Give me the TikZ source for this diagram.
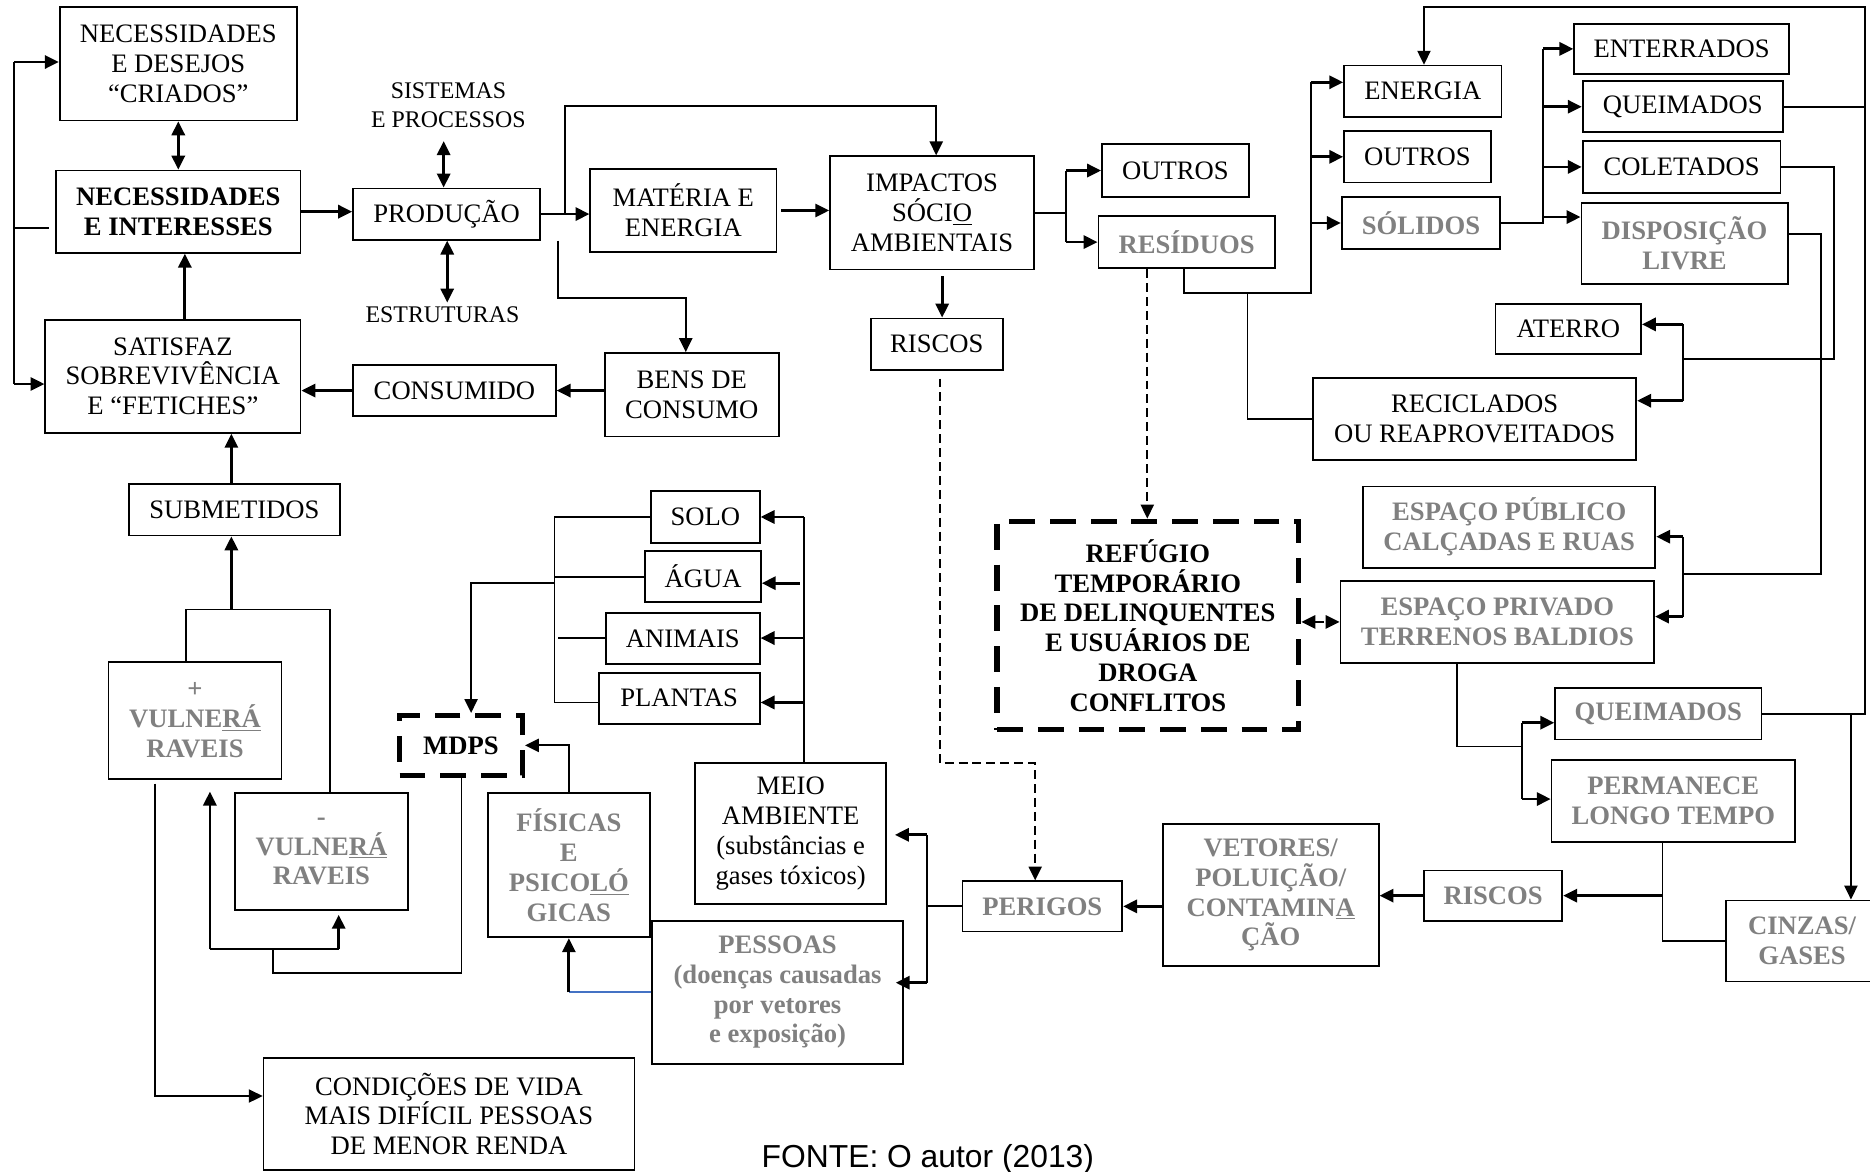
\documentclass[tikz,border=0pt]{standalone}
\usepackage{fontspec}
\setmainfont{Liberation Serif}
\newfontfamily\srcfont{Liberation Sans}
\usetikzlibrary{arrows.meta,calc}
\definecolor{txtgray}{RGB}{128,128,128}
\definecolor{linkblue}{RGB}{68,114,196}

% \mkbox[style]{name}{x1}{y1}{x2}{y2}{text}: box given by its corners
\newcommand\mkbox[7][box]{%
  \pgfmathsetmacro\mbx{(#3+#5)/2}%
  \pgfmathsetmacro\mby{(#4+#6)/2}%
  \pgfmathsetmacro\mbw{(#5-#3)*0.6}%
  \pgfmathsetmacro\mbh{(#6-#4)*0.6}%
  \node[#1,minimum width=\mbw pt,minimum height=\mbh pt] (#2) at (\mbx,\mby) {#7};}

\begin{document}
\begin{tikzpicture}[x=0.6pt,y=-0.6pt,
  >={Triangle[length=7pt,width=6.6pt]},
  box/.style={draw,line width=0.9pt,inner sep=0pt,align=center,font=\fontsize{13.4}{15}\selectfont},
  gbox/.style={box,text=txtgray,font=\fontsize{13.4}{15}\selectfont\bfseries},
  bbox/.style={box,font=\fontsize{13.4}{15}\selectfont\bfseries},
  dbox/.style={bbox,line width=2.6pt,dash pattern=on 13pt off 7.5pt},
  lbl/.style={inner sep=0pt,align=center,font=\fontsize{12}{14.4}\selectfont},
  ln/.style={line width=0.9pt},
  ar/.style={->,line width=1.4pt},
  arl/.style={->,line width=1pt},
  dar/.style={<->,line width=1.4pt},
  dl/.style={line width=0.9pt,dash pattern=on 4.5pt off 2.5pt}]
\useasboundingbox (0,0) rectangle (1568,982);
\fill[white] (0,0) rectangle (1568,982);

% ---------- boxes ----------
\mkbox{NDC}{50}{6}{249}{101}{NECESSIDADES\\E DESEJOS\\“CRIADOS”}
\mkbox[bbox]{NI}{47}{143}{252}{212}{NECESSIDADES\\E INTERESSES}
\mkbox{SAT}{38}{268}{252}{363}{SATISFAZ\\SOBREVIVÊNCIA\\E “FETICHES”}
\mkbox{PROD}{296}{158}{453}{201}{PRODUÇÃO}
\mkbox[lbl]{SIS}{321}{58}{431}{118}{SISTEMAS\\E PROCESSOS}
\mkbox[lbl]{ESTR}{306}{254}{436}{274}{ESTRUTURAS}
\mkbox{CONS}{296}{306}{466}{349}{CONSUMIDO}
\mkbox{BENS}{507}{296}{653}{366}{BENS DE\\CONSUMO}
\mkbox{ME}{495}{142}{651}{211}{MATÉRIA E\\ENERGIA}
\mkbox{IMP}{696}{131}{867}{226}{IMPACTOS\\SÓCI\underline{O}\\AMBIENTAIS}
\mkbox{RIS1}{730}{267}{841}{310}{RISCOS}
\mkbox{OUT1}{924}{121}{1047}{165}{OUTROS}
\mkbox[gbox]{RES}{921}{181}{1069}{225}{RESÍDUOS}
\mkbox{ENE}{1127}{55}{1259}{98}{ENERGIA}
\mkbox{OUT2}{1127}{110}{1250}{153}{OUTROS}
\mkbox[gbox]{SOL}{1125}{165}{1258}{209}{SÓLIDOS}
\mkbox{ENT}{1320}{20}{1500}{62}{ENTERRADOS}
\mkbox{QUE1}{1327}{68}{1495}{111}{QUEIMADOS}
\mkbox{COL}{1327}{118}{1493}{162}{COLETADOS}
\mkbox[gbox]{DISP}{1326}{170}{1499}{238}{DISPOSIÇÃO\\LIVRE}
\mkbox{ATE}{1254}{255}{1376}{297}{ATERRO}
\mkbox{REC}{1101}{317}{1372}{386}{RECICLADOS\\OU REAPROVEITADOS}
\mkbox[gbox]{EPU}{1143}{408}{1388}{476}{ESPAÇO PÚBLICO\\CALÇADAS E RUAS}
\mkbox[gbox]{EPR}{1124}{487}{1387}{556}{ESPAÇO PRIVADO\\TERRENOS BALDIOS}
\mkbox[dbox]{REF}{836}{437}{1089}{612}{REFÚGIO\\TEMPORÁRIO\\DE DELINQUENTES\\E USUÁRIOS DE\\DROGA\\CONFLITOS}
\mkbox[gbox]{QUE2}{1304}{577}{1477}{620}{QUEIMADOS}
\mkbox[gbox]{PERM}{1301}{637}{1505}{706}{PERMANECE\\LONGO TEMPO}
\mkbox[gbox]{RIS2}{1194}{730}{1310}{772}{RISCOS}
\mkbox[gbox]{CINZ}{1447}{755}{1575}{823}{CINZAS/\\GASES}
\mkbox[gbox]{VET}{975}{691}{1156}{810}{VETORES/\\POLUIÇÃO/\\CONTAMIN\underline{A}\\ÇÃO}
\mkbox[gbox]{PER}{807}{739}{941}{781}{PERIGOS}
\mkbox{MEIO}{583}{640}{743}{758}{MEIO\\AMBIENTE\\(substâncias e\\gases tóxicos)}
\mkbox[gbox]{PESS}{547}{772}{757}{892}{PESSOAS\\(doenças causadas\\por vetores\\e exposição)}
\mkbox[gbox]{FIS}{409}{665}{545}{786}{FÍSICAS\\E\\PSICO\underline{LÓ}\\GICAS}
\mkbox[dbox]{MDPS}{335}{600}{438}{650}{MDPS}
\mkbox{SOLO}{546}{412}{637}{455}{SOLO}
\mkbox{AGUA}{541}{462}{638}{505}{ÁGUA}
\mkbox{ANIM}{508}{514}{637}{557}{ANIMAIS}
\mkbox{PLAN}{502}{564}{637}{607}{PLANTAS}
\mkbox{SUB}{108}{406}{285}{449}{SUBMETIDOS}
\mkbox[gbox]{VUL1}{91}{555}{236}{653}{+\\VULNE\underline{RÁ}\\RAVEIS}
\mkbox[gbox]{VUL2}{197}{665}{342}{763}{-\\VULNE\underline{RÁ}\\RAVEIS}
\mkbox{COND}{221}{887}{532}{981}{CONDIÇÕES DE VIDA\\MAIS DIFÍCIL PESSOAS\\DE MENOR RENDA}
\node[anchor=base,inner sep=0pt,font=\srcfont\fontsize{16}{19}\selectfont] (src) at (778,979) {FONTE: O autor (2013)};

% ---------- guide coordinates ----------
\coordinate (lbT) at (12,52);
\coordinate (lbM) at (12,191);
\coordinate (lbB) at (12,322);
\coordinate (g155) at (155,0);
\coordinate (g372) at (372,0);
\coordinate (g375) at (375,0);
\coordinate (g474) at (474,0);
\coordinate (t89) at (785,89);
\coordinate (b250) at (468,250);
\coordinate (g575) at (575,0);
\coordinate (g790) at (790,0);
\coordinate (g894) at (894,0);
\coordinate (r1) at (993,246);
\coordinate (g1099) at (1099,0);
\coordinate (e69) at (1099,69);
\coordinate (g1046) at (1046,0);
\coordinate (g1294) at (1294,0);
\coordinate (d182) at (1294,182);
\coordinate (tr) at (1564,6);
\coordinate (g1194) at (1194,0);
\coordinate (g1552) at (1552,0);
\coordinate (c1) at (1538,143);
\coordinate (c2) at (1411,301);
\coordinate (c3) at (1411,272);
\coordinate (c4) at (1411,336);
\coordinate (d2) at (1527,196);
\coordinate (d3) at (1411,481);
\coordinate (d4) at (1411,450);
\coordinate (d5) at (1411,517);
\coordinate (g962) at (962,0);
\coordinate (k1) at (788,640);
\coordinate (k2) at (868,640);
\coordinate (g1394) at (1394,0);
\coordinate (q1) at (1222,626);
\coordinate (q2) at (1276,606);
\coordinate (q3) at (1276,670);
\coordinate (g777) at (777,0);
\coordinate (w1) at (777,700);
\coordinate (w2) at (777,824);
\coordinate (g674) at (674,0);
\coordinate (a2) at (674,489);
\coordinate (a3) at (674,535);
\coordinate (a4) at (674,589);
\coordinate (g465) at (465,0);
\coordinate (n2) at (465,489);
\coordinate (n3) at (468,535);
\coordinate (n4) at (465,589);
\coordinate (g395) at (395,0);
\coordinate (g477) at (477,0);
\coordinate (h1) at (477,832);
\coordinate (g387) at (387,0);
\coordinate (v1) at (387,816);
\coordinate (v2) at (229,816);
\coordinate (v3) at (229,796);
\coordinate (v4) at (176,796);
\coordinate (v5) at (284,796);
\coordinate (u1) at (156,511);
\coordinate (u2) at (277,511);
\coordinate (g194) at (194,0);
\coordinate (z1) at (130,919);

% ---------- connectors ----------
% left feedback bus
\draw[ln] (lbT) -- (lbB);
\draw[ar] (lbT) -- (lbT -| NDC.west);
\draw[ar] (lbB) -- (lbB -| SAT.west);
\draw[ln,shorten >=3pt] (lbM) -- (lbM -| NI.west);
\draw[dar] (NDC.south) -- (NI.north);
\draw[ar] (g155 |- SAT.north) -- (g155 |- NI.south);
\draw[ar] (NI.east) -- (NI.east -| PROD.west);
\draw[dar] (g372 |- SIS.south) -- (g372 |- PROD.north);
\draw[dar] (g375 |- PROD.south) -- (g375 |- ESTR.north);
\draw[ar] (CONS.west) -- (CONS.west -| SAT.east);
\draw[ar] (BENS.west |- CONS.east) -- (CONS.east);
% production outputs
\draw[ar] (PROD.east) -- (PROD.east -| ME.west);
\draw[arl] (g474 |- PROD.east) -- (g474 |- t89) -- (t89) -- (t89 |- IMP.north);
\draw[arl] (b250 |- PROD.south) -- (b250) -- (g575 |- b250) -- (g575 |- BENS.north);
\draw[ar,shorten <=2pt] (ME.east) -- (ME.east -| IMP.west);
\draw[ar,shorten <=3pt] (g790 |- IMP.south) -- (g790 |- RIS1.north);
% impacts
\draw[ln] (IMP.east) -- (IMP.east -| g894);
\draw[ln] (g894 |- OUT1.west) -- (g894 |- RES.west);
\draw[ar] (g894 |- OUT1.west) -- (OUT1.west);
\draw[ar] (g894 |- RES.west) -- (RES.west);
% residues
\draw[ln] (r1 |- RES.south) -- (r1) -- (g1099 |- r1) -- (e69);
\draw[ar] (e69) -- (e69 -| ENE.west);
\draw[ar] (g1099 |- OUT2.west) -- (OUT2.west);
\draw[ar] (g1099 |- SOL.west) -- (SOL.west);
\draw[ln] (g1046 |- r1) -- (g1046 |- REC.west) -- (REC.west);
% solids
\draw[ln] (SOL.east) -- (SOL.east -| g1294) -- (g1294 |- ENT.west);
\draw[ar] (g1294 |- ENT.west) -- (ENT.west);
\draw[ar] (g1294 |- QUE1.west) -- (QUE1.west);
\draw[ar] (g1294 |- COL.west) -- (COL.west);
\draw[ar] (d182) -- (d182 -| DISP.west);
% burnt material
\draw[ln] (QUE1.east) -- (QUE1.east -| tr);
\draw[arl] (QUE2.east) -- (QUE2.east -| tr) -- (tr) -- (g1194 |- tr) -- (g1194 |- ENE.north);
\draw[arl] (g1552 |- QUE2.east) -- (g1552 |- CINZ.north);
% collected
\draw[ln] (COL.east) -- (COL.east -| c1) -- (c1 |- c2) -- (c2);
\draw[ln] (c3) -- (c4);
\draw[ar] (c3) -- (c3 -| ATE.east);
\draw[ar] (c4) -- (c4 -| REC.east);
% free disposal
\draw[ln] (d2 -| DISP.east) -- (d2) -- (d2 |- d3) -- (d3);
\draw[ln] (d4) -- (d5);
\draw[ar] (d4) -- (d4 -| EPU.east);
\draw[ar] (d5) -- (d5 -| EPR.east);
\draw[<->,dl,line width=1.2pt] (EPR.west -| REF.east) -- (EPR.west);
\draw[->,dl] (g962 |- RES.south) -- (g962 |- REF.north);
\draw[->,dl,shorten <=4pt] (k1 |- RIS1.south) -- (k1) -- (k2) -- (k2 |- PER.north);
% private space
\draw[ln] (q1 |- EPR.south) -- (q1) -- (q1 -| q2);
\draw[ln] (q2) -- (q3);
\draw[ar] (q2) -- (q2 -| QUE2.west);
\draw[ar] (q3) -- (q3 -| PERM.west);
\draw[ln] (g1394 |- PERM.south) -- (g1394 |- CINZ.west) -- (CINZ.west);
\draw[ar] (g1394 |- RIS2.east) -- (RIS2.east);
\draw[ar] (RIS2.west) -- (RIS2.west -| VET.east);
\draw[ar] (VET.west |- PER.east) -- (PER.east);
% hazards
\draw[ln] (PER.west) -- (PER.west -| g777);
\draw[ln] (w1) -- (w2);
\draw[ar,shorten >=4pt] (w1) -- (w1 -| MEIO.east);
\draw[ar,shorten >=-4pt] (w2) -- (w2 -| PESS.east);
% environment
\draw[ln] (g674 |- MEIO.north) -- (g674 |- SOLO.east);
\draw[ar] (g674 |- SOLO.east) -- (SOLO.east);
\draw[ar,shorten <=2pt] (a2) -- (a2 -| AGUA.east);
\draw[ar] (a3) -- (a3 -| ANIM.east);
\draw[ar] (a4) -- (a4 -| PLAN.east);
\draw[ln] (SOLO.west) -- (SOLO.west -| g465) -- (n4) -- (n4 -| PLAN.west);
\draw[ln] (AGUA.west) -- (AGUA.west -| g465);
\draw[ln] (n3) -- (n3 -| ANIM.west);
\draw[arl] (n2) -- (g395 |- n2) -- (g395 |- MDPS.north);
\draw[arl] (g477 |- FIS.north) -- (g477 |- MDPS.east) -- (MDPS.east);
\draw[linkblue,line width=0.9pt] (h1 -| PESS.west) -- (h1);
\draw[ar] (h1) -- (h1 |- FIS.south);
% vulnerability
\draw[ln] (g387 |- MDPS.south) -- (v1) -- (v2) -- (v3);
\draw[ln] (v4) -- (v5);
\draw[ar,shorten >=6pt] (v4) -- (v4 |- VUL1.south);
\draw[ar,shorten >=2pt] (v5) -- (v5 |- VUL2.south);
\draw[ln] (u1 |- VUL1.north) -- (u1) -- (u2) -- (u2 |- VUL2.north);
\draw[ar] (g194 |- u1) -- (g194 |- SUB.south);
\draw[ar] (g194 |- SUB.north) -- (g194 |- SAT.south);
\draw[arl,shorten <=2pt] (z1 |- VUL1.south) -- (z1) -- (z1 -| COND.west);
\end{tikzpicture}
\end{document}
